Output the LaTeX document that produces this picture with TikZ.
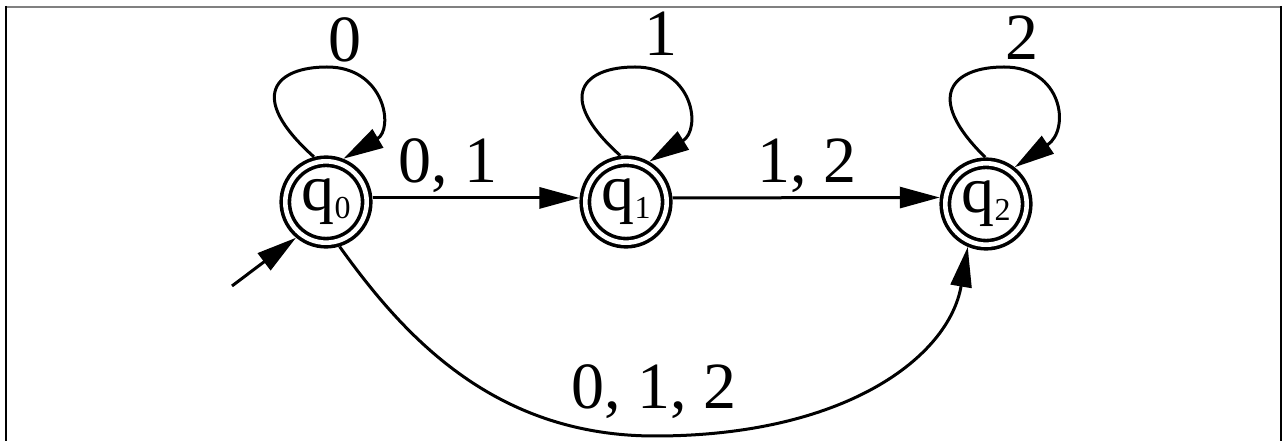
\documentclass[tikz,border=0pt]{standalone}
\usepackage{fontspec}
\setmainfont{Liberation Serif}
\usetikzlibrary{arrows.meta,calc}
\newcommand{\qlabel}[1]{\fontsize{66}{66}\selectfont q\raisebox{-8pt}{\fontsize{32}{32}\selectfont #1}}
\begin{document}
\begin{tikzpicture}[x=1pt,y=1pt,
  st/.style={circle,draw,double,line width=3.6pt,double distance=4.6pt,minimum size=81.4pt,inner sep=0pt,outer sep=6pt},
  edge/.style={line width=3pt,-{Triangle[length=40pt,width=21pt]}},
  lbl/.style={anchor=base,inner sep=0pt,font=\fontsize{66}{66}\selectfont},
  frame/.style={line width=2pt}]
\useasboundingbox (0,0) rectangle (1285,441);
\draw[frame,gray] (5,434) -- (1282,434);
\draw[frame] (6,435) -- (6,0);
\draw[frame] (1281,435) -- (1281,0);
\node[st] (q0) at (326,239) {\qlabel{0}};
\node[st] (q1) at (626,239) {\qlabel{1}};
\node[st] (q2) at (986,237) {\qlabel{2}};
\coordinate (init) at (232,155);
% loops
\draw[edge] (q0.105) .. controls ($(q0)+(-81,107)$) and ($(q0)+(-49,135)$) .. ($(q0)+(1,135)$) .. controls ($(q0)+(59,135)$) and ($(q0)+(68,73)$) .. (q0.68);
\draw[edge] (q1.97) .. controls ($(q1)+(-73,107)$) and ($(q1)+(-41,135)$) .. ($(q1)+(9,135)$) .. controls ($(q1)+(67,135)$) and ($(q1)+(76,73)$) .. (q1.60);
\draw[edge] (q2.91) .. controls ($(q2)+(-64,109)$) and ($(q2)+(-32,137)$) .. ($(q2)+(18,137)$) .. controls ($(q2)+(76,137)$) and ($(q2)+(85,75)$) .. (q2.52);
% edges
\draw[edge] (init) -- (q0.230);
\draw[edge] (q0.5) -- (q1.175);
\draw[edge] (q1.5) -- (q2.172);
\draw[edge] (q0.287) .. controls ($(q0)+(75,-130)$) and ($(q0)+(165,-234)$) .. ($(q0)+(329,-234)$) .. controls ($(q2)+(-141,-232)$) and ($(q2)+(-37,-153)$) .. (q2.247);
% labels
\node[lbl] (l0) at (345,379) {0};
\node[lbl] (l1) at (661,385) {1};
\node[lbl] (l2) at (1022,381) {2};
\node[lbl] (l01) at (448,258) {0, 1};
\node[lbl] (l12) at (807,258) {1, 2};
\node[lbl] (l012) at (654,32) {0, 1, 2};
\end{tikzpicture}
\end{document}
